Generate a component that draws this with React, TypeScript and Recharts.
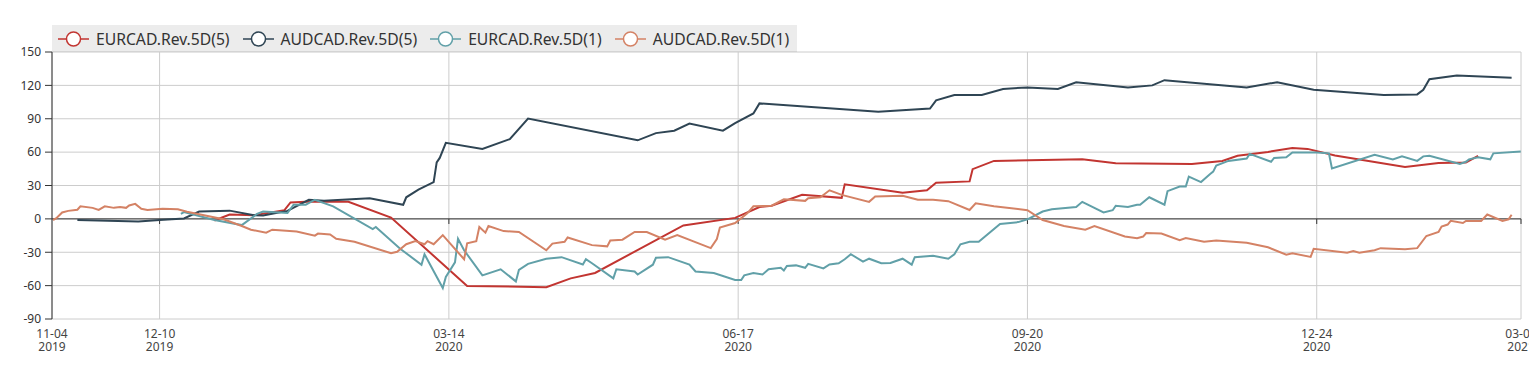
import {
  LineChart,
  Line,
  XAxis,
  YAxis,
  CartesianGrid,
  ReferenceLine,
  Legend,
} from "recharts";

// EURCAD.Rev.5D(5)
const eurcad5Dates = [
  "2019-12-28", "2020-01-02", "2020-01-10", "2020-01-20", "2020-01-22", "2020-01-27",
  "2020-02-10", "2020-02-24", "2020-03-20", "2020-04-15", "2020-04-23", "2020-05-01",
  "2020-05-30", "2020-06-16", "2020-06-24", "2020-06-28", "2020-07-08", "2020-07-21",
  "2020-07-22", "2020-08-10", "2020-08-18", "2020-08-21", "2020-09-01", "2020-09-02",
  "2020-09-09", "2020-10-08", "2020-10-19", "2020-11-13", "2020-11-23", "2020-11-28",
  "2020-12-08", "2020-12-16", "2020-12-21", "2020-12-30", "2021-01-22", "2021-02-02",
  "2021-02-11", "2021-02-15",
];
const eurcad5Values = [
  -1.5, 3.9, 3.3, 7.8, 14.8, 15.3,
  15.3, 1.2, -60.3, -61.4, -53.5, -48.6,
  -5.9, 0.9, 10.7, 11.8, 21.6, 18.9,
  31.1, 23.5, 25.7, 32.5, 33.7, 44.7,
  52.1, 53.5, 49.9, 49.4, 52.1, 56.7,
  60.2, 63.8, 62.9, 57, 46.6, 50.2,
  50.7, 56.7,
];

// AUDCAD.Rev.5D(5)
const audcad5Dates = [
  "2019-11-13", "2019-12-03", "2019-12-10", "2019-12-18", "2019-12-23", "2020-01-02",
  "2020-01-10", "2020-01-13", "2020-01-21", "2020-01-28", "2020-02-02", "2020-02-17",
  "2020-02-28", "2020-02-29", "2020-03-04", "2020-03-09", "2020-03-10", "2020-03-11",
  "2020-03-13", "2020-03-25", "2020-04-03", "2020-04-09", "2020-05-15", "2020-05-21",
  "2020-05-27", "2020-06-01", "2020-06-12", "2020-06-16", "2020-06-22", "2020-06-24",
  "2020-08-02", "2020-08-19", "2020-08-21", "2020-08-27", "2020-09-05", "2020-09-12",
  "2020-09-20", "2020-09-30", "2020-10-06", "2020-10-23", "2020-10-31", "2020-11-04",
  "2020-12-01", "2020-12-11", "2020-12-23", "2021-01-15", "2021-01-26", "2021-01-28",
  "2021-01-30", "2021-02-08", "2021-02-26",
];
const audcad5Values = [
  -1, -2.3, -1, 0.4, 6.6, 7.4,
  3.3, 3.1, 7.2, 17.2, 16.2, 18.6,
  12.7, 19.4, 26.2, 33, 50.7, 54.8,
  68.4, 62.9, 71.7, 90.2, 70.6, 77.1,
  79.3, 85.6, 79.3, 86.1, 94.8, 103.8,
  96.4, 99.2, 106.5, 111.4, 111.4, 116.8,
  118.2, 116.8, 122.7, 118, 120, 124.7,
  118, 122.9, 116, 111.4, 111.9, 116,
  125.6, 128.8, 126.9,
];

// EURCAD.Rev.5D(1)
const eurcad1Dates = [
  "2019-12-17", "2019-12-18", "2019-12-28", "2020-01-06", "2020-01-11", "2020-01-13",
  "2020-01-21", "2020-01-23", "2020-01-27", "2020-01-30", "2020-02-05", "2020-02-18",
  "2020-02-19", "2020-02-27", "2020-03-05", "2020-03-06", "2020-03-12", "2020-03-13",
  "2020-03-16", "2020-03-17", "2020-03-19", "2020-03-25", "2020-03-31", "2020-04-05",
  "2020-04-06", "2020-04-09", "2020-04-15", "2020-04-20", "2020-04-27", "2020-04-28",
  "2020-04-30", "2020-05-07", "2020-05-08", "2020-05-14", "2020-05-15", "2020-05-20",
  "2020-05-21", "2020-05-25", "2020-06-01", "2020-06-03", "2020-06-09", "2020-06-16",
  "2020-06-18", "2020-06-19", "2020-06-22", "2020-06-25", "2020-06-27", "2020-07-01",
  "2020-07-02", "2020-07-03", "2020-07-06", "2020-07-09", "2020-07-10", "2020-07-15",
  "2020-07-17", "2020-07-20", "2020-07-22", "2020-07-24", "2020-07-28", "2020-07-30",
  "2020-08-03", "2020-08-06", "2020-08-10", "2020-08-13", "2020-08-14", "2020-08-20",
  "2020-08-25", "2020-08-27", "2020-08-29", "2020-09-01", "2020-09-04", "2020-09-11",
  "2020-09-17", "2020-09-20", "2020-09-25", "2020-09-28", "2020-10-06", "2020-10-08",
  "2020-10-15", "2020-10-18", "2020-10-19", "2020-10-23", "2020-10-26", "2020-10-27",
  "2020-10-30", "2020-11-04", "2020-11-05", "2020-11-09", "2020-11-11", "2020-11-12",
  "2020-11-16", "2020-11-19", "2020-11-20", "2020-11-21", "2020-11-25", "2020-12-01",
  "2020-12-02", "2020-12-09", "2020-12-10", "2020-12-14", "2020-12-16", "2020-12-24",
  "2020-12-28", "2020-12-29", "2021-01-12", "2021-01-18", "2021-01-21", "2021-01-26",
  "2021-01-28", "2021-01-30", "2021-02-09", "2021-02-11", "2021-02-12", "2021-02-15",
  "2021-02-19", "2021-02-20", "2021-03-01",
];
const eurcad1Values = [
  4.5, 6.1, -1, -5.6, 4.5, 6.6,
  5.3, 12.7, 12.7, 17.2, 11.3, -9.1,
  -7.3, -26.8, -41.2, -31.8, -62.2, -52.2,
  -39.1, -17.9, -28.2, -50.8, -45.3, -56.2,
  -45.9, -40.4, -35.8, -34.4, -41, -36.3,
  -39.9, -53.5, -45.3, -47.3, -50, -41.2,
  -35, -34.4, -41, -47.3, -48.6, -54.9,
  -54.9, -50.8, -48.6, -50, -45.3, -44,
  -46.4, -42.4, -41.8, -44, -40.4, -44.5,
  -41, -39.9, -36.3, -31.8, -38.5, -35.8,
  -39.9, -39.6, -35.8, -41.2, -34.4, -33.1,
  -35.8, -31.8, -22.8, -20.6, -20.6, -4.5,
  -2.9, -0.4, 6.6, 8.6, 10.7, 15.3,
  5.8, 7.8, 11.8, 10.7, 12.7, 12.7,
  19.4, 12.7, 24.9, 29, 29, 38,
  33.1, 40.4, 42.5, 48, 52.1, 54.3,
  58.4, 51.3, 54.8, 55.3, 59.7, 59.7,
  58.9, 45.3, 57.6, 53.5, 56.2, 52.1,
  56.2, 56.7, 49.4, 51.3, 53.5, 55.3,
  53.5, 58.9, 60.5,
];

// AUDCAD.Rev.5D(1)
const audcad1Dates = [
  "2019-11-05", "2019-11-06", "2019-11-08", "2019-11-10", "2019-11-13", "2019-11-14",
  "2019-11-18", "2019-11-20", "2019-11-22", "2019-11-25", "2019-11-27", "2019-11-29",
  "2019-11-30", "2019-12-02", "2019-12-04", "2019-12-06", "2019-12-11", "2019-12-16",
  "2019-12-19", "2019-12-31", "2020-01-06", "2020-01-09", "2020-01-14", "2020-01-16",
  "2020-01-24", "2020-01-30", "2020-01-31", "2020-02-04", "2020-02-06", "2020-02-12",
  "2020-02-24", "2020-02-26", "2020-02-29", "2020-03-03", "2020-03-06", "2020-03-07",
  "2020-03-09", "2020-03-12", "2020-03-19", "2020-03-20", "2020-03-23", "2020-03-24",
  "2020-03-26", "2020-03-27", "2020-04-01", "2020-04-06", "2020-04-15", "2020-04-17",
  "2020-04-21", "2020-04-22", "2020-04-30", "2020-05-05", "2020-05-06", "2020-05-10",
  "2020-05-14", "2020-05-18", "2020-05-24", "2020-05-28", "2020-06-08", "2020-06-10",
  "2020-06-11", "2020-06-16", "2020-06-20", "2020-06-22", "2020-06-28", "2020-07-02",
  "2020-07-09", "2020-07-10", "2020-07-14", "2020-07-17", "2020-07-21", "2020-07-30",
  "2020-08-01", "2020-08-10", "2020-08-15", "2020-08-20", "2020-08-25", "2020-09-01",
  "2020-09-03", "2020-09-09", "2020-09-20", "2020-09-25", "2020-10-02", "2020-10-09",
  "2020-10-12", "2020-10-22", "2020-10-26", "2020-10-28", "2020-10-29", "2020-11-03",
  "2020-11-09", "2020-11-11", "2020-11-17", "2020-11-21", "2020-12-01", "2020-12-08",
  "2020-12-14", "2020-12-16", "2020-12-22", "2020-12-23", "2021-01-03", "2021-01-05",
  "2021-01-07", "2021-01-12", "2021-01-14", "2021-01-22", "2021-01-26", "2021-01-29",
  "2021-02-02", "2021-02-03", "2021-02-05", "2021-02-06", "2021-02-10", "2021-02-11",
  "2021-02-16", "2021-02-18", "2021-02-23", "2021-02-25", "2021-02-26",
];
const audcad1Values = [
  -1, 0.4, 5.8, 7.2, 8.2, 11.3,
  9.9, 8, 11.3, 9.9, 10.7, 9.9,
  12.1, 13.5, 9.1, 8, 9.1, 8.6,
  6.4, -0.4, -6.4, -9.7, -12.4, -9.7,
  -11.3, -15.1, -13.2, -14, -17.9, -20.6,
  -30.9, -29.6, -22.8, -20, -22.8, -20,
  -22.8, -14.6, -36.3, -22, -20, -7.3,
  -12.4, -6.4, -11, -11.8, -28.2, -22.2,
  -20.6, -16.7, -23.6, -24.7, -19.5, -18.7,
  -11.8, -11.8, -18.7, -14.6, -26.3, -18.1,
  -7.8, -3.7, 5, 11.3, 11.8, 17.6,
  16.2, 18.6, 19.4, 25.7, 21.6, 15.3,
  20.2, 20.8, 17.2, 17.2, 15.9, 8,
  14, 11.3, 7.8, -1, -6.4, -9.7,
  -6.4, -15.9, -17.3, -15.9, -12.7, -13.2,
  -19.2, -17.3, -20.6, -19.5, -21.4, -25.5,
  -32.2, -30.9, -34.2, -26.9, -30.4, -29,
  -30.4, -28.2, -26.3, -27.3, -26.3, -15.4,
  -11.8, -6.9, -5.1, -1.8, -3.7, -1.8,
  -1.8, 3.9, -1.8, -0.4, 3.7,
];

const seriesNames = ["EURCAD.Rev.5D(5)", "AUDCAD.Rev.5D(5)", "EURCAD.Rev.5D(1)", "AUDCAD.Rev.5D(1)"];
const colors = ["#c23531", "#2f4554", "#61a0a8", "#d48265"];

const xMin = Date.UTC(2019, 10, 4, 16);
const xMax = Date.UTC(2021, 2, 1, 2);
const xTicks = [
  xMin,
  Date.UTC(2019, 11, 10),
  Date.UTC(2020, 2, 14),
  Date.UTC(2020, 5, 17),
  Date.UTC(2020, 8, 20),
  Date.UTC(2020, 11, 24),
  xMax,
];
const yTicks = [-90, -60, -30, 0, 30, 60, 90, 120, 150];

const toPoints = (dates: string[], values: number[]) =>
  dates.map((d, i) => ({ t: Date.parse(d), v: values[i] }));

const series = [
  toPoints(eurcad5Dates, eurcad5Values),
  toPoints(audcad5Dates, audcad5Values),
  toPoints(eurcad1Dates, eurcad1Values),
  toPoints(audcad1Dates, audcad1Values),
];

const pad = (n: number) => (n < 10 ? "0" + n : "" + n);

function DateTick(props: any) {
  const { x, y, payload } = props;
  const d = new Date(payload.value);
  return (
    <text x={x} y={y} textAnchor="middle" fill="#444" fontSize={12}>
      <tspan x={x} dy={11}>{pad(d.getUTCMonth() + 1) + "-" + pad(d.getUTCDate())}</tspan>
      <tspan x={x} dy={13}>{d.getUTCFullYear()}</tspan>
    </text>
  );
}

function LegendBox() {
  return (
    <div
      style={{
        display: "flex",
        alignItems: "center",
        height: 27,
        width: 745,
        background: "rgba(0,0,0,0.075)",
        paddingLeft: 6,
        boxSizing: "border-box",
      }}
    >
      {seriesNames.map((name, i) => (
        <div key={name} style={{ display: "flex", alignItems: "center", marginRight: 13 }}>
          <svg width={31} height={18}>
            <line x1={0} y1={9} x2={31} y2={9} stroke={colors[i]} strokeWidth={1.5} />
            <circle cx={15.5} cy={9} r={7} fill="#fff" stroke={colors[i]} strokeWidth={1.5} />
          </svg>
          <span style={{ marginLeft: 7, fontSize: 15.7, color: "#333", whiteSpace: "nowrap" }}>{name}</span>
        </div>
      ))}
    </div>
  );
}

export default function App() {
  return (
    <div
      style={{
        margin: -8,
        position: "relative",
        width: 1530,
        height: 365,
        overflow: "hidden",
        fontFamily: "'Noto Sans', sans-serif",
      }}
    >
      <svg
        width={140}
        height={10}
        style={{ position: "absolute", left: 1392, top: 0 }}
        fill="none"
        stroke="#666"
        strokeWidth={1}
      >
        <rect x={6.5} y={-8} width={7} height={12} />
        <rect x={28.5} y={-8} width={7} height={12} />
        <path d="M 56 0 L 65 4 L 74 0" />
        <path d="M 56 -3 L 65 1 L 74 -3" />
        <rect x={87.5} y={-8} width={5} height={12} />
        <rect x={95.5} y={-8} width={5} height={12} />
        <path d="M 118.5 -4 L 118.5 5.5 L 132.5 5.5 L 132.5 -4" />
      </svg>
      <LineChart width={1530} height={365} margin={{ top: 25, right: 9, bottom: 0, left: 0 }}>
        <CartesianGrid stroke="#ccc" />
        <XAxis
          dataKey="t"
          type="number"
          domain={[xMin, xMax]}
          ticks={xTicks}
          allowDataOverflow
          axisLine={false}
          tickLine={false}
          height={46}
          tick={<DateTick />}
          interval={0}
        />
        <YAxis
          type="number"
          domain={[-90, 150]}
          ticks={yTicks}
          width={52}
          axisLine={{ stroke: "#333" }}
          tickLine={{ stroke: "#333" }}
          tickSize={7}
          tickMargin={4}
          tick={{ fill: "#333", fontSize: 12 }}
          interval={0}
        />
        <ReferenceLine y={0} stroke="#333" />
        {xTicks.slice(1).map((t) => (
          <ReferenceLine
            key={t}
            segment={[{ x: t, y: 0 }, { x: t, y: -4.6 }]}
            stroke="#333"
            ifOverflow="visible"
          />
        ))}
        <Legend
          verticalAlign="top"
          align="left"
          wrapperStyle={{ top: 25, left: 52, width: 745 }}
          content={() => <LegendBox />}
        />
        {series.map((pts, i) => (
          <Line
            key={seriesNames[i]}
            data={pts}
            dataKey="v"
            name={seriesNames[i]}
            type="linear"
            stroke={colors[i]}
            strokeWidth={2}
            dot={false}
            activeDot={false}
            isAnimationActive={false}
          />
        ))}
      </LineChart>
    </div>
  );
}
